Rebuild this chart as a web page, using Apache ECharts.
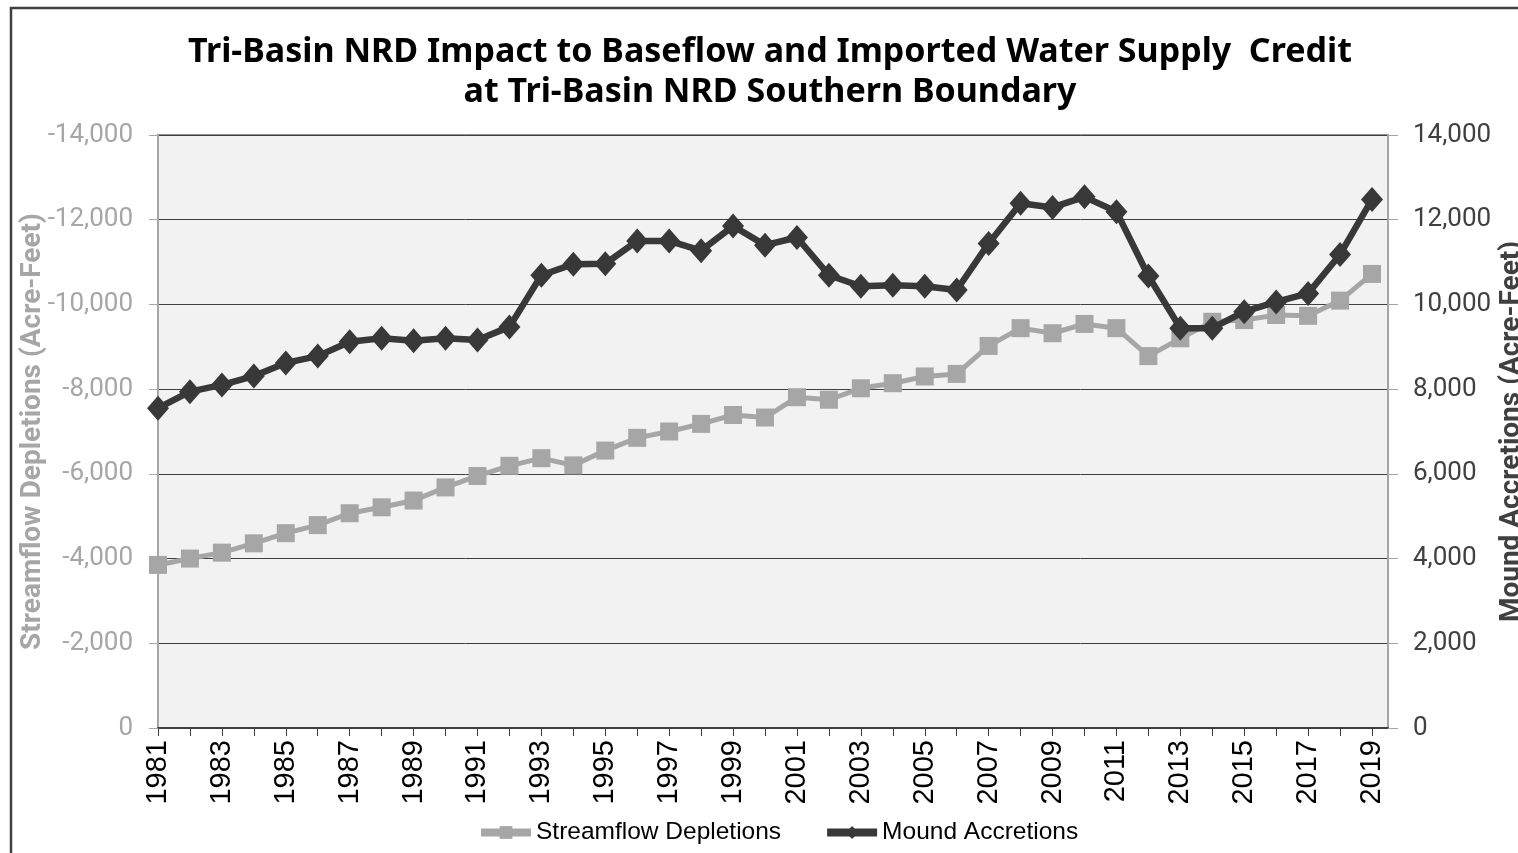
<!DOCTYPE html>
<html>
<head>
<meta charset="utf-8">
<title>Tri-Basin NRD Impact to Baseflow</title>
<script src="https://cdn.jsdelivr.net/npm/echarts@6/dist/echarts.min.js"></script>
<style>
  html, body { margin: 0; padding: 0; background: #fff; }
  #chart { width: 1518px; height: 853px; }
</style>
</head>
<body>
<div id="chart"></div>
<script>
// 年份
var years = [];
for (var y = 1981; y <= 2019; y++) years.push(y);

// 左轴：河道流量消耗（负值，轴反向）
var streamflowDepletions = [
    -3850, -4000, -4140, -4360, -4600, -4790, -5070, -5210, -5370, -5680,
    -5950, -6190, -6370, -6200, -6550, -6850, -7000, -7180, -7390, -7330,
    -7810, -7750, -8020, -8140, -8300, -8360, -9020, -9440, -9320, -9540,
    -9440, -8780, -9200, -9590, -9630, -9750, -9730, -10090, -10720
];

// 右轴：地下水丘补给
var moundAccretions = [
    7550, 7940, 8100, 8310, 8620, 8780, 9120, 9200, 9140, 9200,
    9160, 9470, 10690, 10950, 10960, 11500, 11500, 11270, 11850, 11400,
    11580, 10690, 10430, 10450, 10430, 10340, 11440, 12390, 12290, 12540,
    12190, 10670, 9440, 9440, 9830, 10060, 10260, 11180, 12480
];

// 只显示奇数年份标签
var oddYears = years.filter(function (v) { return v % 2 === 1; });

var pairs = function (xs, vs) {
    return xs.map(function (x, i) { return [x, vs[i]]; });
};

var fmt = function (v) { return Number(v).toLocaleString('en-US'); };

var my_chart = echarts.init(document.getElementById('chart'));
var option = {
    backgroundColor: '#fff',
    animation: false,
    graphic: [{
        type: 'rect',
        shape: { x: 11, y: 8, width: 1600, height: 900 },
        style: { fill: 'none', stroke: '#404040', lineWidth: 2.5 },
        silent: true
    }],
    title: {
        text: 'Tri-Basin NRD Impact to Baseflow and Imported Water Supply  Credit\nat Tri-Basin NRD Southern Boundary',
        left: 765,
        textAlign: 'center',
        top: 27,
        textStyle: {
            fontFamily: 'Noto Sans',
            fontSize: 34,
            fontWeight: 'bold',
            color: '#000',
            lineHeight: 40
        }
    },
    grid: {
        left: 158,
        right: 130,
        top: 135,
        bottom: 125,
        outerBoundsMode: 'none',
        show: true,
        backgroundColor: '#f2f2f2',
        borderColor: '#8c8c8c',
        borderWidth: 2
    },
    legend: {
        bottom: 3,
        left: 472,
        itemWidth: 50,
        itemHeight: 16,
        itemGap: 42,
        textStyle: { fontFamily: 'Liberation Sans', fontSize: 24.5, color: '#000' },
        data: [
            { name: 'Streamflow Depletions', lineStyle: { width: 8 } },
            { name: 'Mound Accretions', lineStyle: { width: 8 } }
        ]
    },
    xAxis: {
        type: 'value',
        min: 1981,
        max: 2019.5,
        interval: 1,
        axisLine: { lineStyle: { color: '#404040', width: 2 } },
        axisTick: {
            show: true,
            length: 8,
            customValues: years,
            lineStyle: { color: '#404040', width: 1 }
        },
        axisLabel: {
            customValues: oddYears,
            rotate: 90,
            margin: 12,
            fontFamily: 'Liberation Sans',
            fontSize: 29,
            color: '#000',
            formatter: function (v) { return String(v); }
        },
        splitLine: { show: false }
    },
    yAxis: [
        {
            type: 'value',
            inverse: true,
            min: -14000,
            max: 0,
            interval: 2000,
            position: 'left',
            name: 'Streamflow Depletions (Acre-Feet)',
            nameLocation: 'middle',
            nameGap: 111,
            nameMoveOverlap: false,
            nameTextStyle: {
                fontFamily: 'Roboto',
                fontSize: 28,
                fontWeight: 'bold',
                color: '#a6a6a6'
            },
            axisLine: { show: true, lineStyle: { color: '#a6a6a6', width: 2 } },
            axisTick: { show: true, length: 9, lineStyle: { color: '#a6a6a6' } },
            axisLabel: {
                fontFamily: 'Roboto',
                fontSize: 26,
                color: '#a6a6a6',
                margin: 25,
                formatter: fmt
            },
            splitLine: { show: true, lineStyle: { color: '#404040', width: 1 } }
        },
        {
            type: 'value',
            min: 0,
            max: 14000,
            interval: 2000,
            position: 'right',
            name: 'Mound Accretions (Acre-Feet)',
            nameLocation: 'middle',
            nameGap: 110,
            nameMoveOverlap: false,
            nameRotate: 90,
            nameTextStyle: {
                fontFamily: 'Roboto',
                fontSize: 28,
                fontWeight: 'bold',
                color: '#404040'
            },
            axisLine: { show: true, lineStyle: { color: '#a6a6a6', width: 2 } },
            axisTick: { show: true, length: 10, lineStyle: { color: '#a6a6a6' } },
            axisLabel: {
                fontFamily: 'Roboto',
                fontSize: 26,
                color: '#404040',
                margin: 25,
                formatter: fmt
            },
            splitLine: { show: false }
        }
    ],
    series: [
        {
            name: 'Streamflow Depletions',
            type: 'line',
            yAxisIndex: 0,
            data: pairs(years, streamflowDepletions),
            symbol: 'rect',
            symbolSize: 18,
            itemStyle: { color: '#a6a6a6' },
            lineStyle: { color: '#a6a6a6', width: 5 },
            z: 3
        },
        {
            name: 'Mound Accretions',
            type: 'line',
            yAxisIndex: 1,
            data: pairs(years, moundAccretions),
            symbol: 'diamond',
            symbolSize: [22, 25],
            itemStyle: { color: '#383838' },
            lineStyle: { color: '#383838', width: 6.5 },
            z: 4
        }
    ]
};
my_chart.setOption(option);
window.onresize = function () {
    my_chart.resize();
};
</script>
</body>
</html>
